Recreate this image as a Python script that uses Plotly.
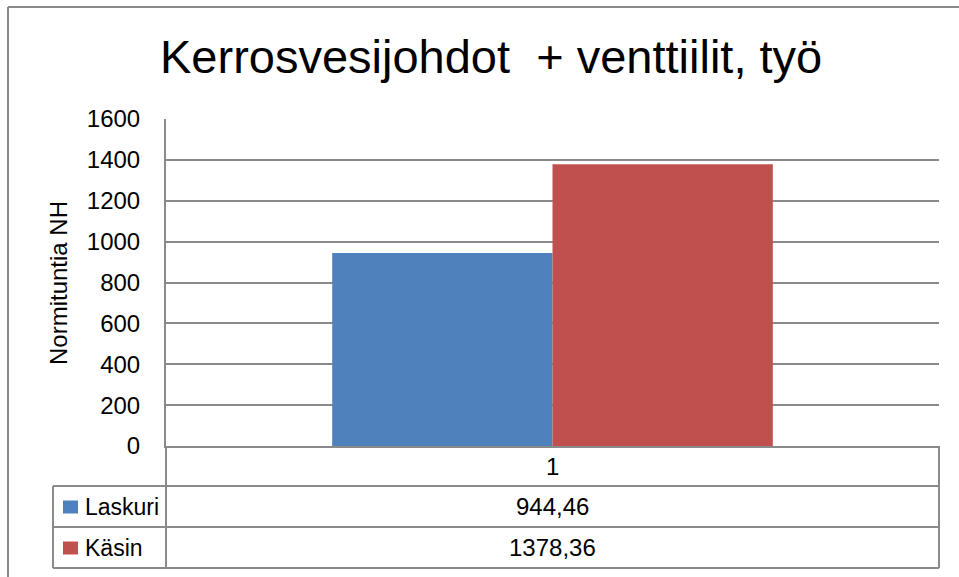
import plotly.graph_objects as go

# ---- data ----
categories = ["1"]
series_names = ["Laskuri", "Käsin"]
laskuri_values = [944.46]
kasin_values = [1378.36]
value_labels = ["944,46", "1378,36"]
y_ticks = [0, 200, 400, 600, 800, 1000, 1200, 1400, 1600]
title_text = "Kerrosvesijohdot  + venttiilit, työ"
y_title = "Normituntia NH"
colors = ["#4F81BD", "#C0504D"]

W, H = 959, 577
L, R, T, B = 166, 939, 119, 446  # plot area in pixels
PW, PH = R - L, B - T
FONT = "Liberation Sans, Arial, sans-serif"
GRID = "#8a8a8a"


def xp(px):
    return (px - L) / PW


def yp(py):
    return (B - py) / PH


fig = go.Figure()
for name, vals, col in zip(series_names, [laskuri_values, kasin_values], colors):
    fig.add_trace(go.Bar(x=categories, y=vals, name=name, marker=dict(color=col, line=dict(width=0))))

shapes = []


def line(x0, y0, x1, y1, w=2, c=GRID):
    shapes.append(dict(type="line", xref="paper", yref="paper",
                       x0=xp(x0), y0=yp(y0), x1=xp(x1), y1=yp(y1),
                       line=dict(color=c, width=w), layer="above"))


# outer chart border (left + top visible)
line(8, 7, 8, 577, 2, "#8a8a8a")
line(8, 7, 959, 7, 2, "#8a8a8a")

# data table
row_top, row1, row2, row3 = 446, 486, 527, 568
tbl_left = 53
line(L, row_top, L, row3)
line(R, row_top, R, row3)
line(tbl_left, row1, R, row1)
line(tbl_left, row2, R, row2)
line(tbl_left, row3, R, row3)
line(tbl_left, row1, tbl_left, row3)

annotations = []
# header (category)
annotations.append(dict(x=xp((L + R) / 2), y=yp((row_top + row1) / 2), xref="paper", yref="paper",
                        text=categories[0], showarrow=False, font=dict(family=FONT, size=24, color="#000"),
                        xanchor="center", yanchor="middle"))
rows = [(row1, row2), (row2, row3)]
for (ya, yb), name, lab, col in zip(rows, series_names, value_labels, colors):
    yc = (ya + yb) / 2
    shapes.append(dict(type="rect", xref="paper", yref="paper",
                       x0=xp(63), x1=xp(78), y0=yp(yc - 6), y1=yp(yc + 7),
                       fillcolor=col, line=dict(width=0), layer="above"))
    annotations.append(dict(x=xp(83), y=yp(yc), xref="paper", yref="paper", text=name,
                            showarrow=False, font=dict(family=FONT, size=23, color="#000"),
                            xanchor="left", yanchor="middle"))
    annotations.append(dict(x=xp((L + R) / 2), y=yp(yc), xref="paper", yref="paper", text=lab,
                            showarrow=False, font=dict(family=FONT, size=24, color="#000"),
                            xanchor="center", yanchor="middle"))

# title
annotations.append(dict(x=xp(491), y=yp(57), xref="paper", yref="paper", text=title_text,
                        showarrow=False, font=dict(family=FONT, size=47, color="#000"),
                        xanchor="center", yanchor="middle"))
# y axis title
annotations.append(dict(x=xp(58), y=yp(283), xref="paper", yref="paper", text=y_title,
                        showarrow=False, textangle=-90, font=dict(family=FONT, size=24, color="#000"),
                        xanchor="center", yanchor="middle"))

fig.update_layout(
    width=W, height=H,
    margin=dict(l=L, r=W - R, t=T, b=H - B, pad=0),
    paper_bgcolor="white", plot_bgcolor="white",
    barmode="group", bargap=0.43, bargroupgap=0,
    showlegend=False,
    shapes=shapes, annotations=annotations,
    font=dict(family=FONT, color="#000"),
)
fig.update_yaxes(range=[0, 1600], tickvals=y_ticks, showgrid=True, gridcolor=GRID, gridwidth=2,
                 showline=True, linecolor=GRID, linewidth=2, ticks="", zeroline=False,
                 tickfont=dict(family=FONT, size=24, color="#000"), ticklabelstandoff=19)
fig.update_xaxes(showticklabels=False, showline=True, linecolor=GRID, linewidth=2, ticks="",
                 showgrid=False)

fig.write_html("out.html", config={"displayModeBar": False},
               post_script="document.body.style.margin='0';document.body.style.overflow='hidden';")
